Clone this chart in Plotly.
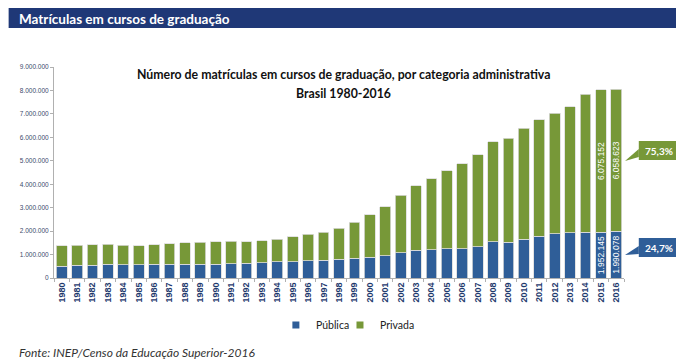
import plotly.graph_objects as go

years = [str(y) for y in range(1980, 2017)]
publica = [492232, 535810, 548388, 576689, 571879, 556680, 577632, 584965, 585351, 584414,
           578625, 605736, 629662, 653516, 690450, 700540, 735427, 759182, 804729, 832022,
           887026, 944584, 1085977, 1176174, 1214317, 1246704, 1251365, 1335177, 1552953, 1523864,
           1643298, 1773315, 1897376, 1932527, 1961002, 1952145, 1990078]
privada = [885054, 850982, 859599, 862303, 827660, 810929, 840564, 885590, 918204, 934490,
           961455, 959320, 906126, 941152, 970584, 1059163, 1133102, 1186433, 1321229, 1537923,
           1807219, 2091529, 2434650, 2760759, 3009027, 3321094, 3632487, 3914970, 4255064, 4430157,
           4736001, 4966374, 5140312, 5373450, 5867011, 6075152, 6058623]
labeled_years = ["2015", "2016"]
share_priv = "75,3%"
share_pub = "24,7%"
yticks = [0, 1000000, 2000000, 3000000, 4000000, 5000000, 6000000, 7000000, 8000000, 9000000]

BLUE = "#2F5E98"
GREEN = "#779838"
NAVY = "#1F3877"

def fmt(v):
    return f"{v:,}".replace(",", ".")

pub_text = [fmt(v) if y in labeled_years else "" for y, v in zip(years, publica)]
priv_text = [fmt(v) if y in labeled_years else "" for y, v in zip(years, privada)]

fig = go.Figure()
for name, vals, txt, col in (("Pública", publica, pub_text, BLUE), ("Privada", privada, priv_text, GREEN)):
    fig.add_trace(go.Bar(x=years, y=vals, name=name, showlegend=False,
                         marker=dict(color=col, line=dict(color="#dcdcdc", width=0.8)),
                         text=txt, textposition="inside", insidetextanchor="middle", textangle=-90,
                         constraintext="none", cliponaxis=False,
                         textfont=dict(color="white", size=8.5, family="Liberation Sans"),
                         hoverinfo="x+y"))
# legend entries with small square swatches (one legend box per entry)
for name, col, leg in (("Pública", BLUE, "legend"), ("Privada", GREEN, "legend2")):
    fig.add_trace(go.Scatter(x=[None], y=[None], mode="markers", name=name, legend=leg,
                             marker=dict(symbol="square", size=7, color=col)))

# page has an 8px body margin: work in reference-pixel coordinates and shift
OFF = 8
W, H = 684 - OFF, 363 - OFF
L, R, T, B = 38, 60, 59, 85
pw, ph = W - L - R, H - T - B

def px(x):
    return (x - OFF - L) / pw

def py(y):
    return (H - B - (y - OFF)) / ph

shapes = [
    dict(type="rect", xref="paper", yref="paper", x0=px(0), x1=px(683), y0=py(28), y1=py(3),
         fillcolor=NAVY, line=dict(width=0), layer="above"),
    dict(type="path", xref="paper", yref="paper",
         path=f"M {px(639)} {py(149)} L {px(625)} {py(161)} L {px(639)} {py(157)} Z",
         fillcolor=GREEN, line=dict(width=0)),
    dict(type="rect", xref="paper", yref="paper", x0=px(639), x1=px(679), y0=py(160), y1=py(141),
         fillcolor=GREEN, line=dict(width=0)),
    dict(type="path", xref="paper", yref="paper",
         path=f"M {px(639)} {py(246)} L {px(625)} {py(255)} L {px(639)} {py(254)} Z",
         fillcolor=BLUE, line=dict(width=0)),
    dict(type="rect", xref="paper", yref="paper", x0=px(639), x1=px(679), y0=py(257), y1=py(238),
         fillcolor=BLUE, line=dict(width=0)),
]

annotations = [
    dict(text="Matrículas em cursos de graduação", xref="paper", yref="paper", x=px(8), y=py(18.5),
         xanchor="left", yanchor="middle", showarrow=False,
         font=dict(family="Lato", size=13.5, color="white", weight="bold")),
    dict(text="Número de matrículas em cursos de graduação, por categoria administrativa", xref="paper", yref="paper",
         x=px(340), y=py(75), xanchor="center", yanchor="middle", showarrow=False,
         font=dict(family="Lato", size=12.3, color="#111111", weight="bold")),
    dict(text="Brasil 1980-2016", xref="paper", yref="paper",
         x=px(340), y=py(93), xanchor="center", yanchor="middle", showarrow=False,
         font=dict(family="Lato", size=12.3, color="#111111", weight="bold")),
    dict(text=share_priv, xref="paper", yref="paper", x=px(659), y=py(150.5), xanchor="center", yanchor="middle",
         showarrow=False, font=dict(family="Lato", size=10, color="white", weight="bold")),
    dict(text=share_pub, xref="paper", yref="paper", x=px(659), y=py(247.5), xanchor="center", yanchor="middle",
         showarrow=False, font=dict(family="Lato", size=10, color="white", weight="bold")),
    dict(text="<i>Fonte: INEP/Censo da Educação Superior-2016</i>", xref="paper", yref="paper", x=px(8), y=py(352),
         xanchor="left", yanchor="middle", showarrow=False,
         font=dict(family="Lato", size=12, color="#333333")),
]

leg_common = dict(orientation="h", yanchor="middle", xanchor="left",
                  font=dict(family="Lato", size=10.5, color="#222222"),
                  itemwidth=30, bgcolor="rgba(0,0,0,0)")

fig.update_layout(
    width=W, height=H,
    margin=dict(l=L, r=R, t=T, b=B, pad=0),
    barmode="stack", bargap=0.3,
    plot_bgcolor="white", paper_bgcolor="white",
    separators=",.",
    showlegend=True,
    legend=dict(x=px(271), y=py(325), **leg_common),
    legend2=dict(x=px(336), y=py(325), **leg_common),
    shapes=shapes,
    annotations=annotations,
    xaxis=dict(type="category", tickangle=-90,
               tickfont=dict(family="Liberation Sans", size=9, color="#1F3A6E", weight="bold"),
               showline=True, linecolor="#b0b0b0", linewidth=1, ticks="outside", tickson="boundaries",
               ticklen=3, tickcolor="#b0b0b0", showgrid=False),
    yaxis=dict(range=[0, 9000000], tickvals=yticks, tickformat=",d",
               tickfont=dict(family="Liberation Sans", size=6.5, color="#3B4A6B"),
               showline=True, linecolor="#b0b0b0", linewidth=1, ticks="outside", ticklen=3, tickcolor="#b0b0b0",
               showgrid=False, zeroline=False),
)

fig.write_html("out.html")
